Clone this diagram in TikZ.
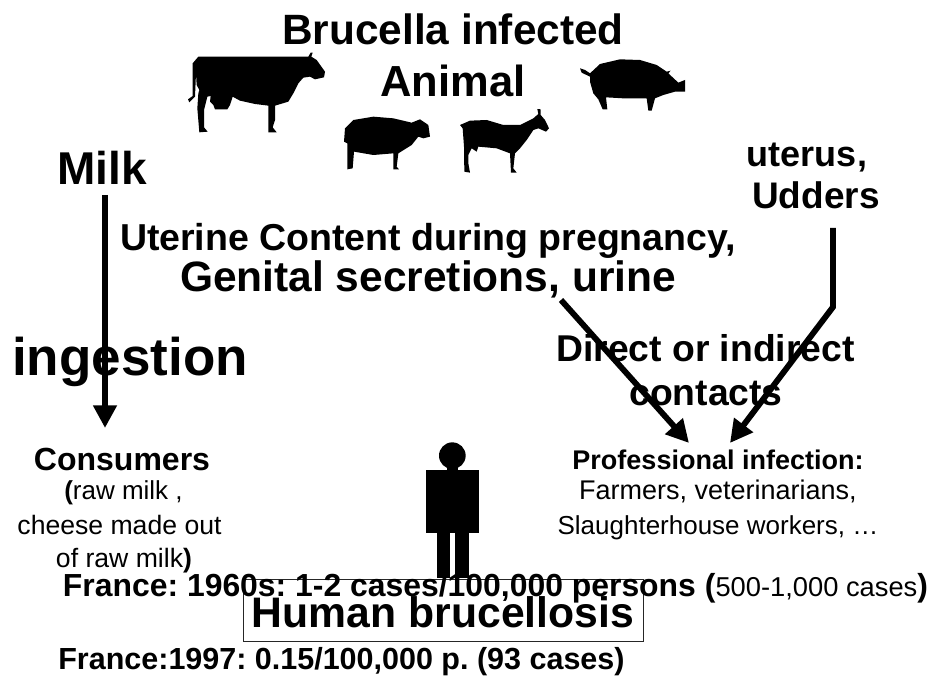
\documentclass[tikz,border=0pt]{standalone}
\usepackage{fontspec}
\setmainfont{Liberation Sans}
\usetikzlibrary{arrows.meta}
\newcommand{\fsz}[1]{\fontsize{\the\dimexpr #1pt*3/4\relax}{\the\dimexpr #1pt\relax}\selectfont}
\tikzset{
  lbl/.style={anchor=base,inner sep=0pt,outer sep=0pt,font=\bfseries,text=black},
  link/.style={line width=4.4pt,draw=black,-{Triangle[length=17pt,width=17pt]}},
  sil/.style={fill=black,draw=none}
}
\begin{document}
\frenchspacing
\begin{tikzpicture}[x=0.75pt,y=-0.75pt]
\useasboundingbox (0,0) rectangle (932,677);
% animals
\begin{scope}[shift={(170,40)},x=0.25pt,y=-0.25pt]
\fill[sil] (85,50)--(415,50)--(422,38)--(428,38)--(424,50)--(440,60)--(465,95)--(462,112)--(435,118)--(420,110)--(400,113)--(385,130)--(370,160)--(355,185)--(315,197)--(315,240)--(308,262)--(320,277)--(295,277)--(295,197)--(255,192)--(210,182)--(188,170)--(180,195)--(172,208)--(135,208)--(130,195)--(120,185)--(122,168)--(112,170)--(102,210)--(102,262)--(113,275)--(88,277)--(82,205)--(85,160)--(88,150)--(80,135)--(78,100)--(75,170)--(58,187)--(54,178)--(68,168)--(68,70)--cycle;
\end{scope}
\begin{scope}[shift={(330,40)},x=0.25pt,y=-0.25pt]
\fill[sil] (45,265)--(70,240)--(130,230)--(190,235)--(245,248)--(270,238)--(295,255)--(300,290)--(280,295)--(265,290)--(245,315)--(205,340)--(200,380)--(207,388)--(190,388)--(190,340)--(130,345)--(72,335)--(68,385)--(52,388)--(52,310)--(42,305)--cycle;
\fill[sil] (390,255)--(420,242)--(470,240)--(520,255)--(570,255)--(610,235)--(625,222)--(622,207)--(632,208)--(632,225)--(645,240)--(657,265)--(648,275)--(625,265)--(610,270)--(590,300)--(570,325)--(555,340)--(550,385)--(560,398)--(543,398)--(540,340)--(500,325)--(445,320)--(440,335)--(425,325)--(415,345)--(415,370)--(420,398)--(403,395)--(402,320)--(398,265)--cycle;
\fill[sil] (750,85)--(765,90)--(780,100)--(810,72)--(870,58)--(930,60)--(980,75)--(1010,95)--(1022,92)--(1015,100)--(1045,128)--(1065,120)--(1065,155)--(1035,155)--(1000,165)--(975,175)--(965,212)--(955,212)--(950,175)--(880,175)--(828,172)--(832,208)--(818,208)--(805,178)--(790,160)--(780,125)--(780,110)--(755,98)--cycle;
\end{scope}
% person
\begin{scope}[shift={(400,430)},x=0.25pt,y=-0.25pt]
\fill[sil] (157,77) circle[radius=10pt];
\fill[sil] (140,100) rectangle (175,125);
\fill[sil] (78,120) rectangle (237,308);
\fill[sil] (112,300) rectangle (150,445);
\fill[sil] (165,300) rectangle (207,445);
\end{scope}
% box
\node[draw=black!85,line width=0.9pt,minimum width=300pt,minimum height=46.5pt,inner sep=0pt,anchor=north west] (box) at (243,579) {};
% texts
\node[lbl,font=\bfseries\fsz{42.4}] (title1) at (453,45) {Brucella infected};
\node[lbl,font=\bfseries\fsz{43.5}] (title2) at (453,97) {Animal};
\node[lbl,font=\bfseries\fsz{46}] (milk) at (102,185) {Milk};
\node[lbl,font=\bfseries\fsz{36}] (ut1) at (807,167) {uterus,};
\node[lbl,font=\bfseries\fsz{37}] (ut2) at (816,209) {Udders};
\node[lbl,font=\bfseries\fsz{37.5}] (uc) at (428,251) {Uterine Content during pregnancy,};
\node[lbl,font=\bfseries\fsz{42.5}] (gs) at (428,292) {Genital secretions, urine};
\node[lbl,font=\bfseries\fsz{53}] (ing) at (130,375) {ingestion};
\node[lbl,font=\bfseries\fsz{37.3}] (dc1) at (705.5,362) {Direct or indirect};
\node[lbl,font=\bfseries\fsz{37.3}] (dc2) at (706,406) {contacts};
\node[lbl,font=\bfseries\fsz{32}] (cons) at (122,470) {Consumers};
\node[lbl,font=\mdseries\fsz{26}] (c1) at (123.5,499) {\textbf{(}raw milk ,};
\node[lbl,font=\mdseries\fsz{26.6}] (c2) at (119.5,534) {cheese made out};
\node[lbl,font=\mdseries\fsz{26.6}] (c3) at (124,567) {of raw milk\textbf{)}};
\node[lbl,font=\bfseries\fsz{27}] (prof) at (718,469) {Professional infection:};
\node[lbl,font=\mdseries\fsz{27}] (p1) at (718,499) {Farmers, veterinarians,};
\node[lbl,font=\mdseries\fsz{26}] (p2) at (718,534) {Slaughterhouse workers, …};
\node[lbl,font=\bfseries\fsz{31.9}] (fr60) at (495.5,596) {France: 1960s: 1-2 cases/100,000 persons ({\mdseries\fsz{27.3}500-1,000 cases})};
\node[lbl,font=\bfseries\fsz{42.7}] (hb) at (443,627) {Human brucellosis};
\node[lbl,font=\bfseries\fsz{30.5}] (fr97) at (341.5,669) {France:1997: 0.15/100,000 p. (93 cases)};
% connectors
\coordinate (a1s) at (105,195); \coordinate (a1e) at (105,428);
\coordinate (a2s) at (561,300); \coordinate (a2e) at (689,443);
\coordinate (a3s) at (833,228); \coordinate (a3m) at (833,307); \coordinate (a3e) at (730,443);
\draw[link] (a1s) -- (a1e);
\draw[link] (a2s) -- (a2e);
\draw[link,line join=miter] (a3s) -- (a3m) -- (a3e);
\end{tikzpicture}
\end{document}
